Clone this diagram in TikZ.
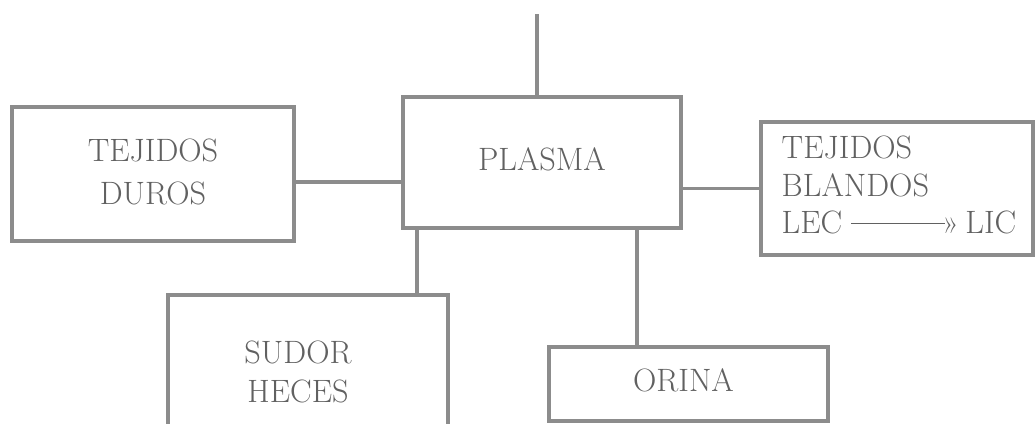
\documentclass[tikz,border=0pt]{standalone}
\usepackage{xcolor}
\definecolor{linegray}{gray}{0.55}
\definecolor{textgray}{gray}{0.38}
\newcommand\boxtext[3]{\scalebox{1.3}{\fontsize{24.88}{#1}\selectfont\begin{tabular}{@{}#2@{}}#3\end{tabular}}}
\begin{document}
\begin{tikzpicture}[x=1pt,y=-1pt,
  box/.style={draw=linegray, line width=3.5pt, rectangle, inner sep=0pt, outer sep=0pt,
    text=textgray, align=center},
  conn/.style={draw=linegray, line width=3.5pt}]
\useasboundingbox (0,0) rectangle (1036,423);
\node[box, minimum width=278pt, minimum height=131pt] (plasma) at (542,162.5)
  {\raisebox{6pt}{\boxtext{29}{c}{PLASMA}}};
\node[box, minimum width=282pt, minimum height=134pt] (duros) at (153,174)
  {\boxtext{33}{c}{TEJIDOS\\DUROS}};
\node[box, minimum width=272pt, minimum height=133pt] (blandos) at (897,188.5)
  {\hspace*{4pt}\boxtext{29}{l}{TEJIDOS\\BLANDOS\\LEC\hspace{7pt}{\color{textgray}\rule[0.3em]{72pt}{0.9pt}}\hspace{-2pt}»\hspace{5pt}LIC}};
\node[box, minimum width=280pt, minimum height=160pt] (sudor) at (308,375)
  {\hspace*{-20pt}\boxtext{30}{c}{SUDOR\\HECES}};
\node[box, minimum width=279pt, minimum height=74pt] (orina) at (688.5,384)
  {\hspace*{-10pt}\boxtext{29}{c}{ORINA}};
\coordinate (top) at (537,14);
\draw[conn] (top) -- (top |- plasma.north);
\path ([yshift=-8pt]duros.east) coordinate (dp);
\draw[conn] (dp) -- (dp -| plasma.west);
\draw[conn] (plasma.east |- blandos.west) -- (blandos.west);
\path ([xshift=-125pt]plasma.south) coordinate (ps);
\draw[conn] (ps) -- (ps |- sudor.north);
\path ([xshift=-51.5pt]orina.north) coordinate (po);
\draw[conn] (po |- plasma.south) -- (po);
\end{tikzpicture}
\end{document}
